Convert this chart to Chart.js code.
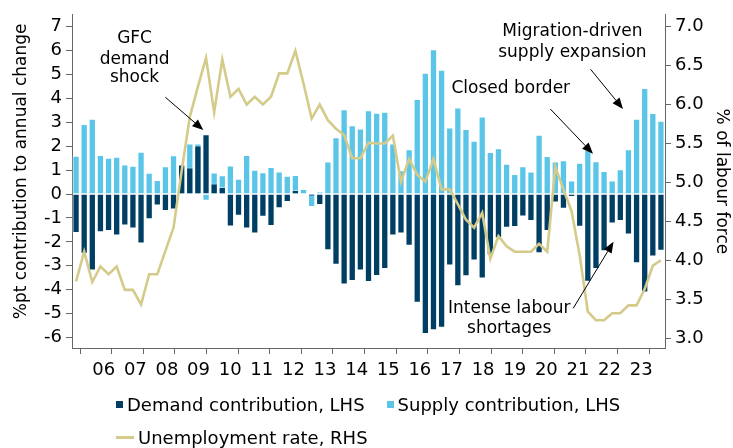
<!DOCTYPE html>
<html>
<head>
<meta charset="utf-8">
<script src="https://cdn.jsdelivr.net/npm/chart.js@4"></script>
<style>
  html, body { margin: 0; padding: 0; background: #fff; }
  #wrap { position: relative; width: 733px; height: 448px; }
  #legend { position: absolute; left: 0; top: 0; width: 733px; font-family: "DejaVu Sans", sans-serif; font-size: 18px; color: #000; }
  .row { position: absolute; left: 116px; display: flex; align-items: center; white-space: nowrap; }
  .sw { display: inline-block; width: 7px; height: 7px; margin-right: 4px; }
  .ln { display: inline-block; width: 18px; height: 3px; margin-right: 4px; }
  .gap { display: inline-block; width: 22px; }
</style>
</head>
<body>
<div id="wrap">
  <canvas id="chart" width="733" height="448"></canvas>
  <div id="legend"></div>
</div>
<script>
/* ── Data (2005 Q4 to 2023 Q4, quarterly) ─────────────────── */
const years = ['06','07','08','09','10','11','12','13','14','15','16','17','18','19','20','21','22','23'];

const demand = [
  -1.63, -2.50, -3.20, -1.60, -1.55, -1.73, -1.31, -1.44, -2.07, -1.05, -0.48, -0.71, -0.65,
   1.24,  1.11,  2.03,  2.50,  0.44,  0.30, -1.36, -0.91, -1.44, -1.65, -0.95, -1.34, -0.59,
  -0.33,  0.17,  0.00, -0.10, -0.46, -2.35, -2.96, -3.78, -3.64, -3.20, -3.68, -3.43, -3.14,
  -1.73, -1.65, -2.16, -4.55, -5.85, -5.70, -5.59, -2.99, -3.86, -3.44, -2.78, -3.53, -2.56,
  -1.85, -1.41, -1.38, -0.94, -1.13, -2.48, -1.54, -0.35, -0.61, -0.12, -1.37, -3.67, -3.14,
  -2.39, -1.23, -1.13, -1.69, -2.89, -4.12, -2.61, -2.37
];

const supply = [
   1.60,  2.93,  3.15,  1.63,  1.52,  1.56,  1.24,  1.18,  1.77,  0.89,  0.59,  1.16,  1.62,
   1.20,  2.12,  2.12, -0.28,  0.90,  0.79,  1.19,  0.64,  1.63,  1.02,  0.91,  1.13,  0.94,
   0.77,  0.80,  0.21, -0.54,  0.10,  1.36,  2.38,  3.55,  2.88,  2.74,  3.51,  3.40,  3.44,
   2.12,  1.00,  1.88,  3.98,  5.08,  6.06,  5.20,  2.79,  3.62,  2.72,  2.23,  3.25,  1.76,
   1.92,  1.27,  0.84,  1.16,  0.94,  2.48,  1.59,  1.36,  1.42,  0.57,  1.31,  1.85,  1.37,
   0.97,  0.57,  1.04,  1.87,  3.15,  4.44,  3.39,  3.07
];

const unemployment = [
  3.73, 4.11, 3.72, 3.92, 3.82, 3.92, 3.62, 3.62, 3.43, 3.82, 3.82, 4.12, 4.42,
  5.15, 5.84, 6.23, 6.60, 5.90, 6.58, 6.10, 6.20, 6.00, 6.10, 6.00, 6.10, 6.40,
  6.40, 6.69, 6.27, 5.82, 6.00, 5.80, 5.69, 5.61, 5.31, 5.31, 5.51, 5.50, 5.50,
  5.60, 5.01, 5.30, 5.10, 5.01, 5.30, 4.91, 4.91, 4.72, 4.52, 4.42, 4.61, 4.02,
  4.31, 4.18, 4.11, 4.11, 4.11, 4.21, 4.11, 5.20, 4.91, 4.63, 4.06, 3.34, 3.23,
  3.23, 3.32, 3.32, 3.42, 3.42, 3.63, 3.93, 4.00
];

// quarter labels for the category axis
const quarters = ['2005Q4'];
years.forEach(y => { for (let q = 1; q <= 4; q++) quarters.push('20' + y + 'Q' + q); });

/* ── Colours ──────────────────────────────────────────────── */
const C_DEMAND = '#003F63';
const C_SUPPLY = '#5BC5E8';
const C_UNEMP  = '#D4CB8A';
const C_AXIS   = '#666666';
const FONT     = 'DejaVu Sans';

/* ── Annotations (x in quarter units, y on the LHS scale) ── */
const notes = [
  { lines: ['GFC', 'demand', 'shock'], x: 6.9,  y: [6.50, 5.64, 4.88], arrow: [10.8, 4.05, 15.6, 2.68] },
  { lines: ['Migration-driven', 'supply expansion'], x: 62.3, y: [6.79, 5.92], arrow: [64.6, 5.22, 68.7, 3.56] },
  { lines: ['Closed border'], x: 54.5, y: [4.41], arrow: [59.5, 3.56, 64.9, 1.69] },
  { lines: ['Intense labour', 'shortages'], x: 54.3, y: [-4.78, -5.61], arrow: [62.4, -4.78, 67.5, -2.0] }
];

const notesPlugin = {
  id: 'notes',
  afterDatasetsDraw(chart) {
    const { ctx } = chart;
    const xs = chart.scales.xt, ys = chart.scales.y;
    ctx.save();
    ctx.fillStyle = '#000';
    ctx.strokeStyle = '#000';
    ctx.font = '17px "' + FONT + '"';
    ctx.textAlign = 'center';
    ctx.textBaseline = 'middle';
    notes.forEach(n => {
      const tx = xs.getPixelForValue(n.x);
      n.lines.forEach((t, k) => ctx.fillText(t, tx, ys.getPixelForValue(n.y[k])));
      const x1 = xs.getPixelForValue(n.arrow[0]), y1 = ys.getPixelForValue(n.arrow[1]);
      const x2 = xs.getPixelForValue(n.arrow[2]), y2 = ys.getPixelForValue(n.arrow[3]);
      const a = Math.atan2(y2 - y1, x2 - x1);
      const hl = 11, hw = 4.5;
      const bx = x2 - hl * Math.cos(a), by = y2 - hl * Math.sin(a);
      ctx.lineWidth = 1;
      ctx.beginPath();
      ctx.moveTo(x1, y1);
      ctx.lineTo(bx, by);
      ctx.stroke();
      ctx.beginPath();
      ctx.moveTo(x2, y2);
      ctx.lineTo(bx + hw * Math.sin(a), by - hw * Math.cos(a));
      ctx.lineTo(bx - hw * Math.sin(a), by + hw * Math.cos(a));
      ctx.closePath();
      ctx.fill();
    });

    // left axis title sits a little above the plot centre in the source
    ctx.translate(22, ys.getPixelForValue(0.95));
    ctx.rotate(-Math.PI / 2);
    ctx.fillText('%pt contribution to annual change', 0, 0);
    ctx.restore();
  }
};

/* ── Chart ────────────────────────────────────────────────── */
Chart.defaults.font.family = FONT;
Chart.defaults.font.size = 18;
Chart.defaults.color = '#000';

new Chart(document.getElementById('chart'), {
  type: 'bar',
  data: {
    labels: quarters,
    datasets: [
      { label: 'Demand contribution, LHS', data: demand, backgroundColor: C_DEMAND,
        borderColor: 'rgba(255,255,255,0.45)', borderWidth: 1, grouped: false, order: 1,
        barPercentage: 0.9, categoryPercentage: 1, yAxisID: 'y', xAxisID: 'x' },
      { label: 'Supply contribution, LHS', data: supply, backgroundColor: C_SUPPLY,
        borderColor: 'rgba(255,255,255,0.55)', borderWidth: 1, grouped: false, order: 2,
        barPercentage: 0.9, categoryPercentage: 1, yAxisID: 'y', xAxisID: 'x' },
      { type: 'line', label: 'Unemployment rate, RHS', data: unemployment, borderColor: C_UNEMP,
        borderWidth: 2.6, pointRadius: 0, tension: 0, order: 0, yAxisID: 'y1', xAxisID: 'x' }
    ]
  },
  options: {
    responsive: false,
    animation: false,
    devicePixelRatio: 1,
    layout: { padding: { top: 12, bottom: 60, left: 0, right: 0 } },
    plugins: { legend: { display: false }, tooltip: { enabled: false } },
    scales: {
      x: { display: false, offset: true },
      xt: {
        type: 'linear', position: 'bottom', min: 0, max: 73,
        afterBuildTicks: s => {
          const t = [];
          years.forEach((y, k) => { t.push({ value: 1 + 4 * k }); t.push({ value: 3 + 4 * k }); });
          t.push({ value: 73 });
          s.ticks = t;
        },
        afterFit: s => { s.height = 40; },
        ticks: {
          autoSkip: false, maxRotation: 0, padding: 6,
          callback: v => ((v - 3) % 4 === 0 ? years[(v - 3) / 4] : '')
        },
        grid: {
          drawOnChartArea: false, tickLength: 6,
          tickColor: c => (c.tick && (c.tick.value - 1) % 4 === 0 ? C_AXIS : 'rgba(0,0,0,0)')
        },
        border: { display: true, color: C_AXIS }
      },
      y: {
        position: 'left', min: -6.44, max: 7.5,
        afterFit: s => { s.width = 72; },
        ticks: { stepSize: 1, includeBounds: false, padding: 4 },
        grid: { drawOnChartArea: false, tickLength: 6, tickColor: C_AXIS },
        border: { display: true, color: C_AXIS }
      },
      y1: {
        position: 'right', min: 2.873, max: 7.153,
        afterFit: s => { s.width = 68; },
        ticks: { stepSize: 0.5, includeBounds: false, padding: 4, callback: v => v.toFixed(1) },
        grid: { drawOnChartArea: false, tickLength: 6, tickColor: C_AXIS },
        border: { display: true, color: C_AXIS },
        title: { display: true, text: '% of labour force', font: { size: 17 }, padding: { top: 1, bottom: 0 } }
      }
    }
  },
  plugins: [notesPlugin]
});

/* ── Legend (HTML, two rows as in the source) ─────────────── */
document.getElementById('legend').innerHTML = `
  <div class="row" style="top:394px">
    <span class="sw" style="background:${C_DEMAND}"></span>Demand contribution, LHS
    <span class="gap"></span>
    <span class="sw" style="background:${C_SUPPLY}"></span>Supply contribution, LHS
  </div>
  <div class="row" style="top:427px">
    <span class="ln" style="background:${C_UNEMP}"></span>Unemployment rate, RHS
  </div>`;
</script>
</body>
</html>
